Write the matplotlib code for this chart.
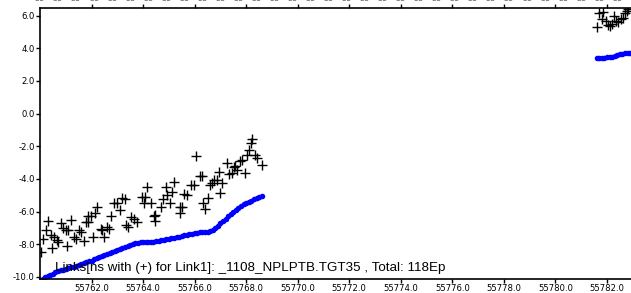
import matplotlib
matplotlib.use("Agg")
import matplotlib.pyplot as plt
import numpy as np

# Black "+" series (offsets), epochs (MJD) and values
plus_x = [55760.04, 55760.13, 55760.24, 55760.30, 55760.46, 55760.43, 55760.56, 55760.66, 55760.71,
          55760.82, 55760.88, 55761.01, 55761.07, 55761.05, 55761.20, 55761.33, 55761.40, 55761.52,
          55761.59, 55761.72, 55761.78, 55761.87, 55761.85, 55761.97, 55762.04, 55762.14, 55762.23,
          55762.36, 55762.42, 55762.49, 55762.59, 55762.68, 55762.75, 55762.88, 55762.97, 55763.09,
          55763.20, 55763.29, 55763.33, 55763.42, 55763.52, 55763.65, 55763.78, 55763.97, 55764.06,
          55764.03, 55764.16, 55764.29, 55764.42, 55764.48, 55764.46, 55764.68, 55764.78, 55764.87,
          55764.93, 55765.06, 55765.13, 55765.19, 55765.45, 55765.51, 55765.45, 55765.58, 55765.71,
          55765.84, 55765.96, 55766.05, 55766.20, 55766.29, 55766.32, 55766.41, 55766.50, 55766.61,
          55766.67, 55766.74, 55766.86, 55766.93, 55766.99, 55767.06, 55767.25, 55767.32, 55767.44,
          55767.51, 55767.57, 55767.64, 55767.77, 55767.83, 55767.96, 55768.02, 55768.09, 55768.18,
          55768.22, 55768.34, 55768.41, 55768.60,
          55781.62, 55781.70, 55781.83, 55781.79, 55781.96, 55782.05, 55782.12, 55782.18, 55782.27,
          55782.35, 55782.44, 55782.53, 55782.61, 55782.70, 55782.76, 55782.83]
plus_y = [-8.50, -7.69, -7.16, -6.55, -8.25, -7.46, -7.58, -7.73, -7.87,
          -6.71, -7.02, -7.12, -7.16, -8.09, -6.51, -7.56, -7.69, -7.16,
          -7.28, -7.83, -6.67, -6.61, -6.26, -6.30, -7.56, -6.06, -5.70,
          -7.08, -7.16, -7.56, -6.96, -7.08, -6.26, -5.49, -5.45, -5.90,
          -5.19, -5.23, -6.81, -6.96, -6.35, -6.47, -6.61, -5.13, -5.09,
          -5.45, -4.52, -5.49, -6.26, -6.20, -6.55, -5.70, -5.25, -4.48,
          -4.98, -5.49, -4.78, -4.17, -5.70, -5.70, -6.06, -4.92, -4.98,
          -4.38, -4.38, -2.59, -3.83, -3.83, -5.49, -5.86, -5.19, -4.38,
          -4.23, -4.07, -4.07, -3.60, -4.88, -4.23, -3.02, -3.71, -3.66,
          -3.30, -3.22, -3.46, -2.89, -2.85, -3.66, -2.55, -2.24, -1.80,
          -1.53, -2.55, -2.75, -3.16,
          5.28, 6.13, 6.23, 5.77, 5.68, 5.42, 5.36, 5.48, 5.97,
          5.68, 5.62, 5.77, 5.83, 6.17, 6.29, 6.38]

# Blue series
blue_x = [55760.0, 55760.1, 55760.2, 55760.3, 55760.4, 55760.5, 55760.6, 55760.7, 55760.8, 55760.9,
          55761.0, 55761.1, 55761.2, 55761.3, 55761.4, 55761.5, 55761.6, 55761.7, 55761.8, 55761.9,
          55762.0, 55762.1, 55762.2, 55762.3, 55762.4, 55762.5, 55762.6, 55762.7, 55762.8, 55762.9,
          55763.0, 55763.1, 55763.2, 55763.3, 55763.4, 55763.5, 55763.6, 55763.7, 55763.8, 55763.9,
          55764.0, 55764.1, 55764.2, 55764.3, 55764.4, 55764.5, 55764.6, 55764.7, 55764.8, 55764.9,
          55765.0, 55765.1, 55765.2, 55765.3, 55765.4, 55765.5, 55765.6, 55765.7, 55765.8, 55765.9,
          55766.0, 55766.1, 55766.2, 55766.3, 55766.4, 55766.5, 55766.6, 55766.7, 55766.8, 55766.9,
          55767.0, 55767.1, 55767.2, 55767.3, 55767.4, 55767.5, 55767.6, 55767.7, 55767.8, 55767.9,
          55768.0, 55768.1, 55768.2, 55768.3, 55768.4, 55768.5, 55768.6,
          55781.6, 55781.7, 55781.8, 55781.9, 55782.0, 55782.1, 55782.2, 55782.3, 55782.4, 55782.5,
          55782.6, 55782.7, 55782.8, 55782.9]
blue_y = [-10.20, -10.12, -10.02, -9.94, -9.86, -9.80, -9.72, -9.66, -9.60, -9.56,
          -9.52, -9.47, -9.42, -9.38, -9.33, -9.27, -9.22, -9.16, -9.10, -9.05,
          -9.00, -8.93, -8.86, -8.79, -8.72, -8.66, -8.60, -8.55, -8.50, -8.44,
          -8.37, -8.31, -8.25, -8.18, -8.11, -8.04, -7.98, -7.93, -7.90, -7.88,
          -7.88, -7.89, -7.88, -7.87, -7.84, -7.81, -7.78, -7.75, -7.72, -7.69,
          -7.66, -7.63, -7.60, -7.57, -7.53, -7.50, -7.46, -7.43, -7.39, -7.36,
          -7.33, -7.30, -7.28, -7.27, -7.25, -7.23, -7.18, -7.10, -7.00, -6.86,
          -6.70, -6.58, -6.45, -6.30, -6.15, -6.02, -5.90, -5.77, -5.65, -5.55,
          -5.47, -5.40, -5.33, -5.26, -5.20, -5.12, -5.07,
          3.39, 3.40, 3.41, 3.42, 3.43, 3.45, 3.48, 3.53, 3.58, 3.64,
          3.66, 3.72, 3.70, 3.70]

xticks = [55762.0, 55764.0, 55766.0, 55768.0, 55770.0, 55772.0, 55774.0, 55776.0, 55778.0, 55780.0, 55782.0]
yticks = [-10.0, -8.0, -6.0, -4.0, -2.0, 0.0, 2.0, 4.0, 6.0]
caption = "Links[ns with (+) for Link1]: _1108_NPLPTB.TGT35 , Total: 118Ep"

fig = plt.figure(figsize=(6.31, 2.93), dpi=100)
ax = fig.add_axes([40/631, 1 - 279/293, 1 - 40/631, (279 - 8)/293])
ax.set_xlim(55760.0, 55782.93)
ax.set_ylim(-10.13, 6.46)

ax.plot(blue_x, blue_y, linestyle='none', marker='o', markersize=4.0, color='#0000ff',
        markeredgewidth=0, zorder=2)
ax.plot(plus_x, plus_y, linestyle='none', marker='+', markersize=7, markeredgewidth=1.0,
        color='black', zorder=3)

ax.set_xticks(xticks)
ax.set_xticklabels([f"{v:.1f}" for v in xticks])
ax.set_yticks(yticks)
ax.set_yticklabels([f"{v:.1f}" for v in yticks])
ax.tick_params(axis='both', direction='out', length=3, width=1, labelsize=6.1, pad=0.8,
               colors='black')
ax.tick_params(axis='x', top=True, pad=0.5)
for side in ['left', 'top', 'bottom']:
    ax.spines[side].set_linewidth(1.2)
ax.spines['right'].set_visible(False)

# partially clipped labels of the top axis (only their lower edge shows)
top_ticks = list(np.arange(55760.0, 55783.0, 0.7))
sec = ax.secondary_xaxis('top')
sec.set_xticks(top_ticks)
sec.set_xticklabels(['55' for _ in top_ticks])
sec.tick_params(length=0, pad=3.4, labelsize=6, colors='#666666')
sec.spines['top'].set_visible(False)

ax.text(55760.6, -9.45, caption, fontsize=9.6, family='Liberation Sans', va='center', ha='left')

fig.savefig("out.png", dpi=100)
